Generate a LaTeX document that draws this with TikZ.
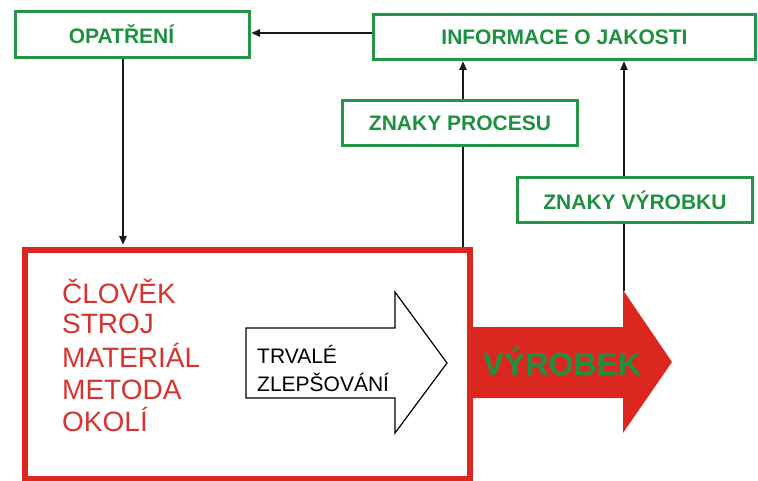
\documentclass[tikz,border=0pt]{standalone}
\usepackage{fontspec}
\setmainfont{Liberation Sans}
\usetikzlibrary{arrows.meta}
\definecolor{grn}{RGB}{34,150,70}
\definecolor{grntxt}{RGB}{30,145,65}
\definecolor{rd}{RGB}{220,38,32}
\definecolor{rdtxt}{RGB}{214,52,48}
\begin{document}
\begin{tikzpicture}[x=1pt,y=-1pt,
  gbox/.style={draw=grn, line width=3pt, minimum width=#1, minimum height=45pt,
    inner sep=0pt, font=\fontsize{21}{24}\selectfont\bfseries, text=grntxt},
  gbox/.default=235pt,
  conn/.style={draw=black!90, line width=2.2pt},
  tipped/.style={-{Triangle[length=9pt,width=7pt]}},
  redline/.style={anchor=base west, inner sep=0pt, text=rdtxt, font=\fontsize{28}{32}\selectfont},
  blkline/.style={anchor=base west, inner sep=0pt, text=black, font=\fontsize{21}{24}\selectfont}]
\useasboundingbox (0,0) rectangle (758,481);
\fill[white] (0,0) rectangle (758,481);

% green boxes
\node[gbox=234pt, minimum height=46pt] (opat) at (132.5,34.5) {\hspace*{-22pt}OPATŘENÍ};
\node[gbox=382pt] (info) at (564.5,37) {INFORMACE O JAKOSTI};
\node[gbox] (proc) at (460,123) {ZNAKY PROCESU};
\node[gbox] (vyr) at (635,200) {ZNAKY VÝROBKU};

% red product arrow
\fill[rd] (470,327) -- (623,327) -- (623,290) -- (672,362) -- (623,433) -- (623,398) -- (470,398) -- cycle;
\node[anchor=base, inner sep=0pt, text=grntxt, font=\fontsize{32}{36}\selectfont\bfseries] (prod) at (562,375) {VÝROBEK};

% red process box
\node[draw=rd, line width=6pt, minimum width=445pt, minimum height=229pt, inner sep=0pt] (main) at (247.5,364.5) {};

\node[redline] (m1) at (62,303) {ČLOVĚK};
\node[redline] (m2) at (62,334) {STROJ};
\node[redline] (m3) at (62,367) {MATERIÁL};
\node[redline] (m4) at (62,399) {METODA};
\node[redline] (m5) at (62,431) {OKOLÍ};

% white improvement arrow
\draw[black, line width=1.2pt, fill=white, line join=miter]
  (246,328) -- (395,328) -- (395,292) -- (447,363) -- (395,433) -- (395,398) -- (246,398) -- cycle;
\node[blkline] (t1) at (257,363) {TRVALÉ};
\node[blkline] (t2) at (257,391) {ZLEPŠOVÁNÍ};

% connectors
\coordinate (ya) at (0,33);
\coordinate (xa) at (123,0);
\coordinate (xb) at (463,0);
\coordinate (xc) at (624,0);
\coordinate (redtip) at (624,291);
\draw[conn,tipped] (info.west |- ya) -- (opat.east |- ya);
\draw[conn,tipped,shorten >=2pt] (opat.south -| xa) -- (main.north -| xa);
\draw[conn] (main.north -| xb) -- (proc.south -| xb);
\draw[conn,tipped] (proc.north -| xb) -- (info.south -| xb);
\draw[conn] (redtip) -- (vyr.south -| xc);
\draw[conn,tipped] (vyr.north -| xc) -- (info.south -| xc);
\end{tikzpicture}
\end{document}
